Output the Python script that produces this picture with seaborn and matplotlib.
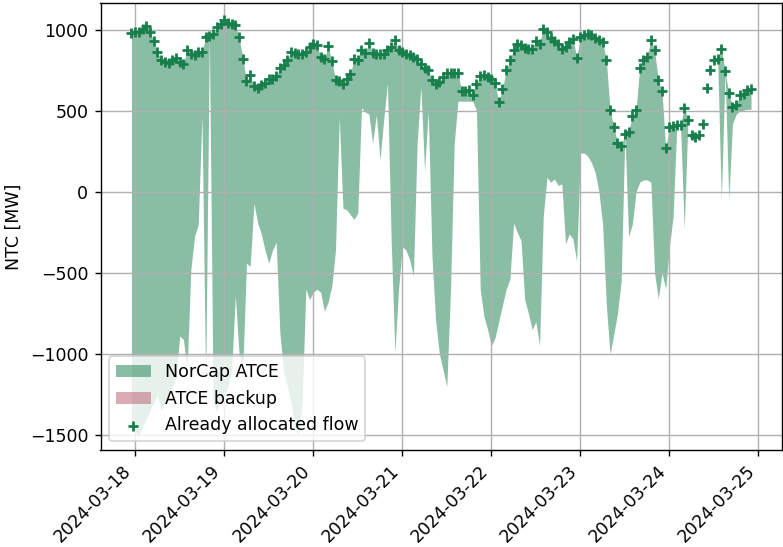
import matplotlib
matplotlib.use("Agg")
import matplotlib.pyplot as plt
import matplotlib.dates as mdates
import numpy as np
import pandas as pd
import seaborn as sns

# Hourly timestamps, 2024-03-17 23:00 .. 2024-03-24 22:00
times = pd.date_range("2024-03-17 23:00", periods=168, freq="h")

# Already allocated flow [MW]
allocated_flow = [
    980, 985, 990, 1005, 1025, 985, 930, 865, 815, 803, 798, 813,
    827, 803, 792, 878, 854, 843, 864, 864, 956, 960, 972, 1018,
    1038, 1059, 1043, 1038, 1028, 956, 823, 683, 720, 653, 639, 659,
    674, 696, 700, 714, 762, 782, 813, 864, 858, 854, 854, 864,
    895, 915, 905, 833, 823, 899, 809, 690, 684, 669, 700, 726,
    823, 813, 874, 860, 920, 858, 854, 850, 850, 878, 895, 935,
    874, 864, 854, 843, 833, 823, 792, 762, 751, 690, 665, 679,
    710, 735, 735, 735, 735, 622, 622, 628, 597, 669, 714, 720,
    710, 700, 674, 552, 634, 751, 813, 878, 915, 905, 890, 885,
    885, 931, 915, 1008, 990, 950, 933, 915, 885, 895, 925, 946,
    829, 956, 966, 972, 966, 952, 936, 925, 813, 505, 402, 304,
    283, 357, 371, 468, 505, 768, 813, 833, 940, 874, 690, 622,
    269, 402, 406, 412, 412, 521, 447, 351, 337, 351, 419, 643,
    751, 813, 823, 885, 745, 612, 526, 536, 597, 607, 628, 634,
]

# NorCap ATCE band: upper edge follows the allocated flow, lower edge below
norcap_upper = allocated_flow
norcap_lower = [
    -1450, -1480, -1500, -1450, -1400, -1350, -1300, -1250, -1350, -1300, -1250, -1200,
    -1150, -890, -910, -1100, -480, -275, -200, 470, -1200, 960, -1300, -1350,
    -1300, -1250, -1200, -1100, -640, -1000, -1100, -440, -460, -70, -190, -260,
    -360, -440, -360, -310, -870, -1100, -1200, -1300, -1450, -1500, -1300, -600,
    -665, -620, -600, -620, -737, -680, -583, -357, 460, -100, -110, -140,
    -170, -130, 520, 494, 480, 300, 474, 197, 450, 670, -300, -990,
    -600, -337, -360, -420, -520, 300, 650, 130, 500, -400, -800, -1000,
    -1100, -1200, -600, 300, 560, 560, 560, 560, 560, 500, -600, -768,
    -850, -950, -900, -800, -700, -600, -540, -193, -250, -300, -665, -750,
    -850, -800, -950, -150, 90, 60, 80, 40, 50, -320, -260, -290,
    -430, 240, 240, 220, 180, 120, 0, -200, -700, -1000, -880, -750,
    -550, 357, -275, -200, 0, 60, 74, 74, 60, -500, -660, -500,
    -600, -340, -150, 412, 412, -230, 447, 351, 337, 351, 419, 643,
    751, 813, 823, -50, 745, -50, 420, 480, 500, 505, 510, 510,
]

# ATCE backup band: no hours in this period
backup_times = times[:0]
backup_upper = []
backup_lower = []

green = "#177F4B"
pink = "#B9596D"

fig = plt.figure(figsize=(783 / 125, 547 / 125), dpi=125)
ax = fig.add_axes([100.5 / 783, 1 - 450 / 547, (782 - 100.5) / 783, (450 - 2.7) / 547])

ax.fill_between(times, norcap_lower, norcap_upper, color=green, alpha=0.5,
                linewidth=0, label="NorCap ATCE")
ax.fill_between(backup_times, backup_lower, backup_upper, color=pink, alpha=0.5,
                linewidth=0, label="ATCE backup")
sns.scatterplot(x=times, y=allocated_flow, marker="+", color=green, s=40,
                linewidth=1.6, ax=ax, label="Already allocated flow", zorder=3)

ax.set_ylim(-1593, 1168)
ax.set_ylabel("NTC [MW]")
ax.set_xlabel("")
ax.grid(True)
ax.xaxis.set_major_locator(mdates.DayLocator())
ax.xaxis.set_major_formatter(mdates.DateFormatter("%Y-%m-%d"))
plt.setp(ax.get_xticklabels(), rotation=45, ha="right")
ax.legend(loc="lower left")

fig.savefig("out.png", dpi=125)
